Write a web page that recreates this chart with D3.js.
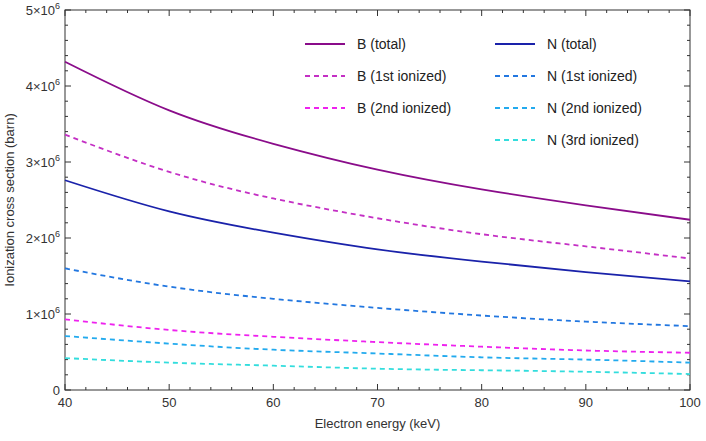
<!DOCTYPE html><html><head><meta charset="utf-8">
<script src="https://cdn.jsdelivr.net/npm/d3@7"></script>
<style>body{margin:0;background:#fff}text{font-family:"Liberation Sans",Arial,sans-serif}</style></head><body>
<svg id="c" width="706" height="441"></svg>
<script>
const energies=[40,50,60,70,80,90,100];
const bTotal=[4.32,3.68,3.24,2.90,2.64,2.43,2.24];
const b1st=[3.36,2.87,2.52,2.26,2.05,1.89,1.73];
const b2nd=[0.93,0.79,0.70,0.63,0.57,0.52,0.49];
const nTotal=[2.76,2.35,2.07,1.85,1.69,1.55,1.43];
const n1st=[1.60,1.36,1.20,1.08,0.98,0.90,0.84];
const n2nd=[0.71,0.61,0.53,0.48,0.43,0.40,0.36];
const n3rd=[0.42,0.36,0.32,0.28,0.26,0.24,0.21];
const xTicks=[40,50,60,70,80,90,100];
const yTicks=[0,1,2,3,4,5];
const series=[
 {name:"B (total)",v:bTotal,c:"#8a0c8a",d:false},
 {name:"B (1st ionized)",v:b1st,c:"#c42fc4",d:true},
 {name:"B (2nd ionized)",v:b2nd,c:"#ee22ee",d:true},
 {name:"N (total)",v:nTotal,c:"#1a22aa",d:false},
 {name:"N (1st ionized)",v:n1st,c:"#2277e0",d:true},
 {name:"N (2nd ionized)",v:n2nd,c:"#22aaee",d:true},
 {name:"N (3rd ionized)",v:n3rd,c:"#33dddd",d:true}];
const svg=d3.select("#c");
const L=65,R=690,T=10,B=390;
const x=d3.scaleLinear().domain([40,100]).range([L,R]);
const y=d3.scaleLinear().domain([0,5]).range([B,T]);
svg.append("rect").attr("x",L).attr("y",T).attr("width",R-L).attr("height",B-T).attr("fill","none").attr("stroke","#333");
const g=svg.append("g");
xTicks.forEach(t=>{g.append("line").attr("x1",x(t)).attr("x2",x(t)).attr("y1",B).attr("y2",B-6).attr("stroke","#333");
 g.append("line").attr("x1",x(t)).attr("x2",x(t)).attr("y1",T).attr("y2",T+6).attr("stroke","#333");
 g.append("text").attr("x",x(t)).attr("y",B+17).attr("text-anchor","middle").attr("font-size",13).attr("fill","#333").text(t);});
for(let t=42;t<100;t+=2){if(t%10==0)continue;[[B,B-3],[T,T+3]].forEach(p=>g.append("line").attr("x1",x(t)).attr("x2",x(t)).attr("y1",p[0]).attr("y2",p[1]).attr("stroke","#333"));}
yTicks.forEach(t=>{[[L,L+6],[R,R-6]].forEach(p=>g.append("line").attr("x1",p[0]).attr("x2",p[1]).attr("y1",y(t)).attr("y2",y(t)).attr("stroke","#333"));
 const tx=g.append("text").attr("x",L-5).attr("y",y(t)+5).attr("text-anchor","end").attr("font-size",13).attr("fill","#333");
 if(t==0)tx.text("0");else{tx.text(t+"\u00d710");tx.append("tspan").attr("font-size",9).attr("dy",-6).text("6");}});
for(let t=0.2;t<5;t+=0.2){if(Math.abs(t-Math.round(t))<0.01)continue;[[L,L+3],[R,R-3]].forEach(p=>g.append("line").attr("x1",p[0]).attr("x2",p[1]).attr("y1",y(t)).attr("y2",y(t)).attr("stroke","#333"));}
const line=d3.line().x((d,i)=>x(energies[i])).y(d=>y(d)).curve(d3.curveNatural);
series.forEach(s=>svg.append("path").attr("d",line(s.v)).attr("fill","none").attr("stroke",s.c).attr("stroke-width",1.8).attr("stroke-dasharray",s.d?"5,4":null));
svg.append("text").attr("x",(L+R)/2).attr("y",428).attr("text-anchor","middle").attr("font-size",13).attr("fill","#333").text("Electron energy (keV)");
svg.append("text").attr("transform",`translate(14,${(T+B)/2}) rotate(-90)`).attr("text-anchor","middle").attr("font-size",13).attr("fill","#333").text("Ionization cross section (barn)");
series.forEach((s,i)=>{const col=i<3?0:1,row=i<3?i:i-3;const lx=col?495:305,ly=44+row*32;
 svg.append("line").attr("x1",lx).attr("x2",lx+40).attr("y1",ly).attr("y2",ly).attr("stroke",s.c).attr("stroke-width",1.8).attr("stroke-dasharray",s.d?"5,4":null);
 svg.append("text").attr("x",lx+52).attr("y",ly+5).attr("font-size",14).attr("fill","#222").text(s.name);});
</script></body></html>
